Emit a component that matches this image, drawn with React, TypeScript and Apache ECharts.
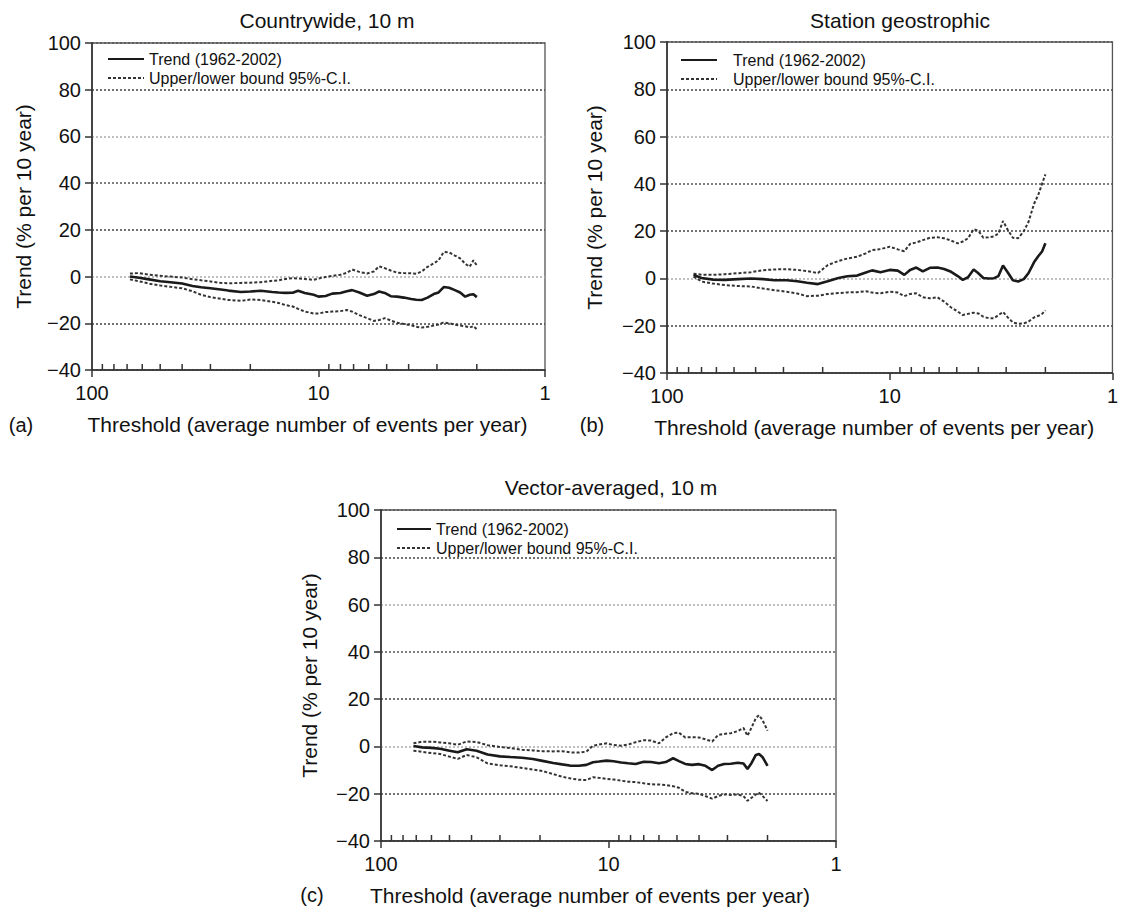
import React, { useEffect, useRef } from "react";
import * as echarts from "echarts";

// ---------- data ----------
const TREND = "Trend (1962-2002)";
const BOUND = "Upper/lower bound 95%-C.I.";
const xTicksMinor = [90, 80, 70, 60, 50, 40, 30, 20, 9, 8, 7, 6, 5, 4, 3, 2];

// (a) Countrywide, 10 m
const xA = [68, 62, 56, 50, 45, 40, 36, 33, 30, 27, 25, 22, 20, 18, 16, 15, 14, 13, 12.3, 11.5, 10.5, 10, 9.3, 8.7, 8, 7.5, 7.1, 6.6, 6.1, 5.7, 5.4, 5.1, 4.8, 4.5, 4.2, 3.9, 3.7, 3.5, 3.3, 3.1, 2.95, 2.8, 2.65, 2.5, 2.37, 2.25, 2.15, 2.07, 2.0];
const trendA = [0, -0.5, -1.2, -2.0, -2.4, -3.0, -4.0, -4.6, -5.0, -5.5, -6.0, -6.6, -6.4, -6.1, -6.6, -6.8, -7.0, -6.9, -6.1, -7.0, -7.8, -8.6, -8.3, -7.3, -7.0, -6.3, -5.8, -6.8, -8.2, -7.5, -6.4, -7.0, -8.4, -8.6, -9.0, -9.6, -9.9, -10.0, -9.0, -7.5, -6.8, -4.5, -4.8, -5.8, -6.8, -8.6, -7.8, -7.6, -8.8];
const upperA = [1.3, 1.5, 0.8, 0.3, 0.0, -0.4, -1.1, -1.6, -2.1, -2.7, -2.9, -2.7, -2.6, -2.4, -1.8, -1.6, -1.0, -0.7, -0.8, -1.0, -1.4, -0.8, -0.2, 0.3, 0.8, 1.6, 3.0, 2.0, 1.3, 2.2, 4.4, 3.6, 2.6, 1.7, 1.5, 1.4, 1.2, 2.2, 4.2, 5.6, 7.0, 10.5, 10.4, 9.0, 7.8, 5.5, 4.2, 7.0, 4.8];
const lowerA = [-1.2, -2.0, -3.0, -3.8, -4.4, -5.0, -6.3, -7.8, -8.8, -9.5, -10.0, -10.4, -9.8, -10.0, -10.8, -11.3, -12.2, -12.8, -13.8, -15.0, -15.8, -15.8, -15.2, -15.0, -14.8, -14.3, -15.0, -16.5, -17.8, -19.0, -18.6, -17.8, -18.8, -19.8, -20.3, -20.8, -21.5, -21.8, -21.5, -21.0, -20.5, -19.6, -20.0, -20.6, -21.0, -21.3, -21.8, -21.2, -22.6];

// (b) Station geostrophic
const xB = [76, 70, 62, 55, 48, 42, 37, 33, 29, 26, 23.5, 21, 19, 17, 15.5, 14, 12.8, 12, 11, 10, 9.2, 8.6, 8.1, 7.6, 7.1, 6.6, 6.1, 5.7, 5.3, 4.95, 4.7, 4.45, 4.2, 4.0, 3.8, 3.6, 3.4, 3.25, 3.1, 2.95, 2.8, 2.65, 2.5, 2.38, 2.25, 2.15, 2.07, 2.0];
const trendB = [1.5, 0.2, -0.5, -0.6, -0.3, 0.0, -0.3, -0.8, -0.8, -1.2, -1.8, -2.4, -1.2, 0.2, 0.9, 1.2, 2.5, 3.4, 2.6, 3.6, 3.3, 1.5, 3.6, 4.6, 3.0, 4.5, 4.6, 4.0, 2.8, 1.0, -0.6, 0.5, 3.8, 2.2, 0.2, 0.0, 0.1, 1.0, 5.5, 2.5, -0.8, -1.3, -0.3, 2.3, 6.8, 9.5, 11.4, 14.9];
const upperB = [2.0, 1.6, 1.5, 1.8, 2.2, 2.6, 3.5, 3.8, 3.9, 3.6, 3.1, 2.3, 5.6, 7.4, 8.4, 9.2, 10.6, 12.0, 12.4, 13.4, 12.3, 11.5, 14.6, 15.2, 16.2, 17.2, 17.4, 17.0, 16.0, 14.8, 15.6, 17.0, 20.8, 20.2, 17.2, 17.4, 17.8, 19.0, 24.3, 20.5, 17.2, 17.0, 20.0, 24.0, 31.5, 35.5, 40.0, 44.0];
const lowerB = [0.8, -1.3, -2.2, -2.8, -3.2, -3.4, -4.3, -5.0, -5.6, -6.4, -7.5, -7.3, -6.6, -6.2, -5.9, -5.8, -5.4, -6.0, -6.3, -5.6, -6.0, -7.5, -6.6, -6.3, -8.0, -8.4, -8.0, -9.8, -12.3, -14.0, -15.5, -15.0, -14.5, -14.8, -16.2, -16.8, -16.8, -15.5, -14.2, -16.5, -18.6, -19.2, -19.0, -18.2, -16.5, -15.8, -15.0, -13.5];

// (c) Vector-averaged, 10 m
const xC = [72, 66, 60, 55, 50, 46, 42, 38, 34, 30, 27, 24, 21.5, 19.5, 17.5, 16, 14.8, 13.5, 12.5, 11.7, 11, 10.2, 9.5, 8.8, 8.2, 7.6, 7.0, 6.5, 6.0, 5.6, 5.2, 4.9, 4.6, 4.3, 4.0, 3.75, 3.5, 3.3, 3.1, 2.9, 2.7, 2.55, 2.45, 2.35, 2.25, 2.18, 2.1, 2.0];
const trendC = [0.2, -0.4, -0.6, -1.0, -1.8, -2.5, -1.2, -1.8, -3.4, -4.2, -4.5, -4.8, -5.3, -6.1, -7.0, -7.6, -8.1, -8.2, -7.8, -6.7, -6.4, -6.0, -6.3, -6.8, -7.1, -7.4, -6.5, -6.6, -7.1, -6.6, -5.0, -6.2, -7.4, -7.8, -7.5, -8.2, -10.0, -8.2, -7.4, -7.3, -6.9, -7.2, -9.5, -7.0, -3.6, -3.2, -4.6, -8.2];
const upperC = [1.3, 2.0, 2.0, 1.7, 1.3, 0.7, 2.1, 1.9, 0.5, -0.2, -0.7, -1.4, -1.7, -2.0, -2.1, -2.0, -2.5, -2.6, -2.2, 0.3, 0.8, 1.3, 0.6, 0.3, 0.8, 1.8, 2.6, 2.5, 1.3, 3.8, 5.6, 5.8, 3.8, 3.9, 3.8, 3.0, 2.1, 4.8, 5.3, 5.6, 6.5, 7.8, 4.5, 8.0, 12.0, 13.2, 11.0, 6.7];
const lowerC = [-1.8, -2.3, -2.8, -3.2, -4.3, -5.3, -3.6, -4.6, -7.2, -8.0, -8.4, -9.1, -9.8, -10.4, -11.7, -12.8, -13.5, -14.1, -14.2, -13.0, -13.3, -13.7, -14.0, -14.5, -14.9, -15.1, -15.6, -16.0, -16.1, -16.3, -16.8, -17.5, -19.2, -19.8, -20.0, -21.0, -22.1, -21.0, -20.3, -20.5, -20.3, -21.0, -23.0, -21.7, -20.3, -19.6, -21.0, -23.1];

const panelTitles = ["Countrywide, 10 m", "Station geostrophic", "Vector-averaged, 10 m"];
const panelTags = ["(a)", "(b)", "(c)"];
const xName = "Threshold (average number of events per year)";
const yName = "Trend (% per 10 year)";

const FONT = "'Liberation Sans', Arial, Helvetica, sans-serif";

const panels = [
  { x: xA, t: trendA, u: upperA, l: lowerA },
  { x: xB, t: trendB, u: upperB, l: lowerB },
  { x: xC, t: trendC, u: upperC, l: lowerC },
];

// layout (pixels)
const grids = [
  { left: 92, top: 43, width: 453, height: 327 },
  { left: 667, top: 42, width: 451, height: 331 },
  { left: 381, top: 510, width: 455, height: 331 },
];
const titlePos = [[327, 20], [900, 20], [611, 487]];
const tagPos = [[21, 425], [592, 425], [312, 895]];
const legendPos = [
  { left: 107, top: 51, pad: 0, w: 36 },
  { left: 680, top: 52, pad: 11, w: 36 },
  { left: 396, top: 521, pad: 0, w: 34 },
];
const xNamePad = [22, 31, 37];
const yNameGap = [58, 62, 61];

function buildOption() {
  const pair = (xs: number[], ys: number[]) => xs.map((x, i) => [x, ys[i]]);
  const series: any[] = [];
  panels.forEach((p, i) => {
    series.push({
      name: TREND, type: "line", xAxisIndex: i, yAxisIndex: i, symbol: "none",
      data: pair(p.x, p.t), lineStyle: { color: "#1a1a1a", width: 2.6 }, itemStyle: { color: "#1a1a1a" }, z: 5,
    });
    series.push({
      name: BOUND, type: "line", xAxisIndex: i, yAxisIndex: i, symbol: "none",
      data: pair(p.x, p.u), lineStyle: { color: "#333", width: 2, type: [3, 2] }, itemStyle: { color: "#333" }, z: 4,
    });
    series.push({
      name: BOUND, type: "line", xAxisIndex: i, yAxisIndex: i, symbol: "none",
      data: pair(p.x, p.l), lineStyle: { color: "#333", width: 2, type: [3, 2] }, itemStyle: { color: "#333" }, z: 4,
    });
    series.push({
      type: "custom", name: "minorTicks" + i, xAxisIndex: i, yAxisIndex: i, silent: true, clip: false,
      data: xTicksMinor.map((v) => [v, -40]),
      renderItem: (params: any, api: any) => {
        const pt = api.coord([api.value(0), api.value(1)]);
        return {
          type: "line",
          shape: { x1: pt[0], y1: pt[1], x2: pt[0], y2: pt[1] - 6 },
          style: { stroke: "#333", lineWidth: 1.5 },
        };
      },
      z: 6,
    });
  });

  const gridLineColors = ["#555", "#444", "#aaa", "#444", "#555", "#aaa", "#444", "#555"];

  return {
    animation: false,
    backgroundColor: "#fff",
    textStyle: { fontFamily: FONT },
    grid: grids.map((g) => ({ ...g, show: true, borderColor: "#555", borderWidth: 1.3, backgroundColor: "transparent" })),
    xAxis: grids.map((g, i) => ({
      type: "log", logBase: 10, min: 1, max: 100, inverse: true, gridIndex: i,
      axisLine: { show: true, onZero: false, lineStyle: { color: "#333", width: 1.6 } },
      axisTick: { show: true, length: 7, lineStyle: { color: "#333", width: 1.5 } },
      axisLabel: { fontSize: 20, color: "#111", margin: 13, fontFamily: FONT },
      splitLine: { show: false },
      name: xName, nameLocation: "middle", nameGap: 44,
      nameTextStyle: { fontSize: 21, color: "#111", fontFamily: FONT, padding: [0, xNamePad[i], 0, 0] },
    })),
    yAxis: grids.map((g, i) => ({
      type: "value", min: -40, max: 100, interval: 20, gridIndex: i,
      axisLine: { show: true, onZero: false, lineStyle: { color: "#333", width: 1.6 } },
      axisTick: { show: true, length: 7, lineStyle: { color: "#333", width: 1.5 } },
      axisLabel: {
        fontSize: 20, color: "#111", margin: 11, fontFamily: FONT,
        formatter: (v: number) => (v < 0 ? "\u2212" + Math.abs(v) : String(v)),
      },
      splitLine: { show: true, lineStyle: { type: [2, 2], color: gridLineColors, width: 1.5 } },
      name: yName, nameLocation: "middle", nameGap: yNameGap[i],
      nameTextStyle: { fontSize: 21, color: "#111", fontFamily: FONT },
    })),
    legend: legendPos.map((lp) => ({
      orient: "vertical", left: lp.left, top: lp.top, padding: 0, itemWidth: lp.w, itemHeight: 14, itemGap: 3,
      data: [TREND, BOUND], selectedMode: false,
      itemStyle: { opacity: 0 },
      textStyle: { fontSize: 16, color: "#111", fontFamily: FONT, padding: [0, 0, 0, lp.pad] },
    })),
    graphic: [
      ...panelTitles.map((t, i) => ({
        type: "text", x: titlePos[i][0], y: titlePos[i][1], silent: true,
        style: { text: t, fontSize: 21, fontFamily: FONT, fill: "#111", align: "center", verticalAlign: "middle" },
      })),
      ...panelTags.map((t, i) => ({
        type: "text", x: tagPos[i][0], y: tagPos[i][1], silent: true,
        style: { text: t, fontSize: 20, fontFamily: FONT, fill: "#111", align: "center", verticalAlign: "middle" },
      })),
    ],
    series,
  };
}

export default function App() {
  const ref = useRef<HTMLDivElement>(null);
  useEffect(() => {
    document.body.style.margin = "0";
    if (!ref.current) return;
    const chart = echarts.init(ref.current, undefined, { renderer: "svg" });
    chart.setOption(buildOption() as any);
    return () => chart.dispose();
  }, []);
  return <div ref={ref} style={{ position: "absolute", left: 0, top: 0, width: 1121, height: 914 }} />;
}
